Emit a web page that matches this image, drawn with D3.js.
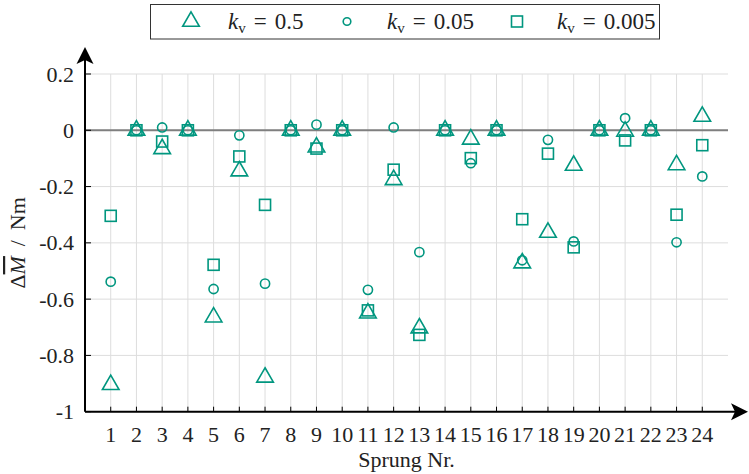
<!DOCTYPE html>
<html>
<head>
<meta charset="utf-8">
<script src="https://cdn.jsdelivr.net/npm/d3@7"></script>
<style>
  html, body { margin: 0; padding: 0; background: #fff; }
  svg text { font-family: "Liberation Serif", "DejaVu Serif", serif; }
</style>
</head>
<body>
<div id="chart"></div>
<script>
const sprungs = d3.range(1, 25);
const yTicks = [0.2, 0, -0.2, -0.4, -0.6, -0.8, -1];
const yTickLabels = ['0.2', '0', '-0.2', '-0.4', '-0.6', '-0.8', '-1'];

// k_v = 0.5
const kv05 = [-0.904, 0, -0.066, 0, -0.664, -0.145, -0.878, 0, -0.060, 0, -0.650, -0.176,
              -0.703, 0, -0.032, 0, -0.472, -0.363, -0.125, 0, -0.004, 0, -0.123, 0.049];
// k_v = 0.05
const kv005 = [-0.538, 0, 0.010, 0, -0.564, -0.018, -0.545, 0, 0.020, 0, -0.567, 0.010,
               -0.433, 0, -0.117, 0, -0.462, -0.034, -0.395, 0, 0.043, 0, -0.398, -0.164];
// k_v = 0.005
const kv0005 = [-0.304, 0, -0.040, 0, -0.478, -0.093, -0.265, 0, -0.065, 0, -0.640, -0.140,
                -0.727, 0, -0.099, 0, -0.316, -0.083, -0.416, 0, -0.036, 0, -0.300, -0.053];

const seriesNames = ['0.5', '0.05', '0.005'];
const seriesShapes = ['triangle', 'circle', 'square'];

const color = '#00967f';
const font = 'Liberation Serif, DejaVu Serif, serif';
const width = 749, height = 474;
const margin = { top: 74, right: 21, bottom: 62.3, left: 85 };

const svg = d3.select('#chart').append('svg')
  .attr('width', width)
  .attr('height', height)
  .attr('font-family', font);

const x = d3.scaleLinear().domain([0, 25]).range([margin.left, width - margin.right]);
const y = d3.scaleLinear().domain([-1, 0.2]).range([height - margin.bottom, margin.top]);

// grid
svg.append('g')
  .selectAll('line')
  .data(sprungs)
  .enter().append('line')
  .attr('x1', d => x(d)).attr('x2', d => x(d))
  .attr('y1', y(-1)).attr('y2', y(0.2))
  .attr('stroke', '#dddddd').attr('stroke-width', 1);

svg.append('g')
  .selectAll('line')
  .data(yTicks)
  .enter().append('line')
  .attr('x1', x(0)).attr('x2', x(25))
  .attr('y1', d => y(d)).attr('y2', d => y(d))
  .attr('stroke', '#dddddd').attr('stroke-width', 1);

// zero line
svg.append('line')
  .attr('x1', x(0)).attr('x2', x(25))
  .attr('y1', y(0)).attr('y2', y(0))
  .attr('stroke', '#7f7f7f').attr('stroke-width', 2);

// axes with arrows
const x0 = x(0), yBase = y(-1);
svg.append('line')
  .attr('x1', x0).attr('x2', 740)
  .attr('y1', yBase).attr('y2', yBase)
  .attr('stroke', '#000').attr('stroke-width', 2);
svg.append('line')
  .attr('x1', x0).attr('x2', x0)
  .attr('y1', yBase).attr('y2', 56)
  .attr('stroke', '#000').attr('stroke-width', 2);

svg.append('path')
  .attr('d', `M748,${yBase} L731,${yBase - 8.5} L735,${yBase} L731,${yBase + 8.5} Z`)
  .attr('fill', '#000');
svg.append('path')
  .attr('d', `M${x0},47 L${x0 - 8.5},64 L${x0},60 L${x0 + 8.5},64 Z`)
  .attr('fill', '#000');

// ticks
svg.append('g')
  .selectAll('line')
  .data(sprungs)
  .enter().append('line')
  .attr('x1', d => x(d)).attr('x2', d => x(d))
  .attr('y1', yBase).attr('y2', yBase - 5)
  .attr('stroke', '#000').attr('stroke-width', 1);

svg.append('g')
  .selectAll('line')
  .data(yTicks)
  .enter().append('line')
  .attr('x1', x0).attr('x2', x0 + 6)
  .attr('y1', d => y(d)).attr('y2', d => y(d))
  .attr('stroke', '#000').attr('stroke-width', 1);

// tick labels
svg.append('g')
  .selectAll('text')
  .data(sprungs)
  .enter().append('text')
  .attr('x', d => x(d))
  .attr('y', 442)
  .attr('text-anchor', 'middle')
  .attr('font-size', 22)
  .attr('fill', '#222')
  .text(d => d);

svg.append('g')
  .selectAll('text')
  .data(yTicks)
  .enter().append('text')
  .attr('x', 74)
  .attr('y', d => y(d) + 7.5)
  .attr('text-anchor', 'end')
  .attr('font-size', 22)
  .attr('fill', '#222')
  .text((d, i) => yTickLabels[i]);

// axis titles
svg.append('text')
  .attr('x', (x(0) + x(25)) / 2)
  .attr('y', 467)
  .attr('text-anchor', 'middle')
  .attr('font-size', 22)
  .attr('fill', '#222')
  .text('Sprung Nr.');

const yl = svg.append('text')
  .attr('transform', `translate(25,${(y(-1) + y(0.2)) / 2}) rotate(-90)`)
  .attr('text-anchor', 'middle')
  .attr('font-size', 22)
  .attr('fill', '#222');
yl.append('tspan').text('Δ');
yl.append('tspan').attr('font-style', 'italic').style('text-decoration', 'overline').text('M');
yl.append('tspan').text('\u2009 / \u2009Nm');

// markers
function marker(sel, shape) {
  if (shape === 'triangle') {
    const r = 9.6;
    sel.append('path')
      .attr('d', `M0,${-r} L${r * 0.866},${r / 2} L${-r * 0.866},${r / 2} Z`);
  } else if (shape === 'circle') {
    sel.append('circle').attr('r', 4.6);
  } else {
    sel.append('rect').attr('x', -5.5).attr('y', -5.5).attr('width', 11).attr('height', 11);
  }
}

const allSeries = [kv05, kv005, kv0005];
allSeries.forEach((vals, si) => {
  svg.append('g')
    .attr('fill', 'none')
    .attr('stroke', color)
    .attr('stroke-width', 1.6)
    .selectAll('g')
    .data(vals)
    .enter().append('g')
    .attr('transform', (d, i) => `translate(${x(sprungs[i])},${y(d)})`)
    .each(function () { marker(d3.select(this), seriesShapes[si]); });
});

// legend
svg.append('rect')
  .attr('x', 150.5).attr('y', 4.5)
  .attr('width', 509).attr('height', 34.5)
  .attr('fill', '#fff')
  .attr('stroke', '#333').attr('stroke-width', 1);

const legendMarkX = [191, 347, 517];
const legendTextX = [228, 387, 557];
seriesNames.forEach((name, i) => {
  const g = svg.append('g')
    .attr('transform', `translate(${legendMarkX[i]},21.5)`)
    .attr('fill', 'none')
    .attr('stroke', color)
    .attr('stroke-width', 1.6);
  if (seriesShapes[i] === 'circle') {
    g.append('circle').attr('r', 3.8);
  } else {
    marker(g, seriesShapes[i]);
  }

  const t = svg.append('text')
    .attr('x', legendTextX[i])
    .attr('y', 29)
    .attr('font-size', 23)
    .attr('fill', '#222');
  t.append('tspan').attr('font-style', 'italic').text('k');
  t.append('tspan').attr('font-size', 15).attr('dy', 4).text('v');
  t.append('tspan').attr('dy', -4).attr('dx', 8).text('=');
  t.append('tspan').attr('dx', 8).text(name);
});
</script>
</body>
</html>
